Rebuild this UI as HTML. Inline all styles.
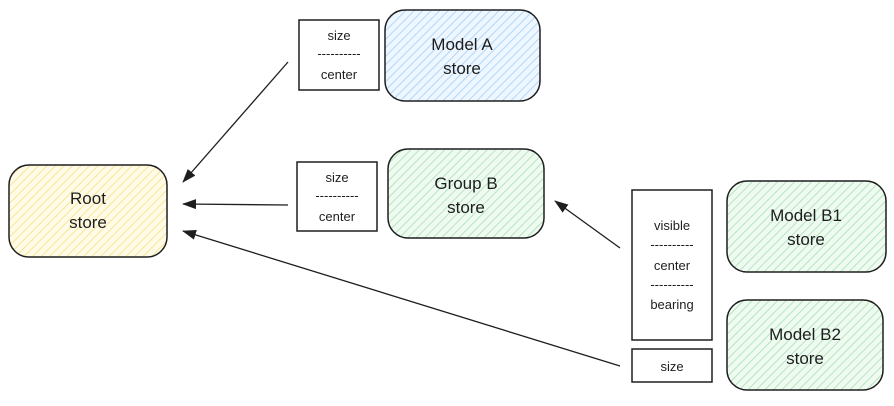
<!DOCTYPE html>
<html><head><meta charset="utf-8"><style>
html,body{margin:0;padding:0;background:#fff;}
svg text{font-family:"Comic Sans MS","Liberation Sans",sans-serif;fill:#1e1e1e;text-anchor:middle;}
.big{font-size:17px;}
.sm{font-size:13px;}
</style></head><body>
<svg width="894" height="401" viewBox="0 0 894 401" xmlns="http://www.w3.org/2000/svg">
<defs>
<pattern id="hy" width="6" height="6" patternUnits="userSpaceOnUse" patternTransform="rotate(45)"><rect width="6" height="6" fill="#fffbe6"/><line x1="0" y1="0" x2="0" y2="6" stroke="#f5e08a" stroke-width="1.6"/></pattern>
<pattern id="hb" width="6" height="6" patternUnits="userSpaceOnUse" patternTransform="rotate(45)"><rect width="6" height="6" fill="#eef6ff"/><line x1="0" y1="0" x2="0" y2="6" stroke="#a5d0f5" stroke-width="1.6"/></pattern>
<pattern id="hg" width="6" height="6" patternUnits="userSpaceOnUse" patternTransform="rotate(45)"><rect width="6" height="6" fill="#effaf1"/><line x1="0" y1="0" x2="0" y2="6" stroke="#a8e0b4" stroke-width="1.6"/></pattern>
<marker id="ah" markerWidth="14" markerHeight="10" refX="13" refY="5" orient="auto" markerUnits="userSpaceOnUse"><path d="M0,0 L14,5 L0,10 Z" fill="#1e1e1e"/></marker>
</defs>
<g stroke="#1e1e1e" stroke-width="1.5">
<rect x="9" y="165" width="158" height="92" rx="20" fill="url(#hy)"/>
<rect x="385" y="10" width="155" height="91" rx="20" fill="url(#hb)"/>
<rect x="388" y="149" width="156" height="89" rx="20" fill="url(#hg)"/>
<rect x="727" y="181" width="159" height="91" rx="20" fill="url(#hg)"/>
<rect x="727" y="300" width="156" height="90" rx="20" fill="url(#hg)"/>
<rect x="299" y="20" width="80" height="70" fill="#fff"/>
<rect x="297" y="162" width="80" height="69" fill="#fff"/>
<rect x="632" y="190" width="80" height="150" fill="#fff"/>
<rect x="632" y="349" width="80" height="33" fill="#fff"/>
</g>
<g stroke="#1e1e1e" stroke-width="1.3" fill="none" marker-end="url(#ah)">
<line x1="288" y1="62" x2="183" y2="182"/>
<line x1="288" y1="205" x2="183" y2="204"/>
<line x1="620" y1="366" x2="183" y2="231"/>
<line x1="620" y1="248" x2="555" y2="201"/>
</g>
<text class="big" x="88" y="204">Root</text><text class="big" x="88" y="228">store</text>
<text class="big" x="462" y="50">Model A</text><text class="big" x="462" y="74">store</text>
<text class="big" x="466" y="189">Group B</text><text class="big" x="466" y="213">store</text>
<text class="big" x="806" y="221">Model B1</text><text class="big" x="806" y="245">store</text>
<text class="big" x="805" y="340">Model B2</text><text class="big" x="805" y="364">store</text>
<text class="sm" x="339" y="40">size</text><text class="sm" x="339" y="58">----------</text><text class="sm" x="339" y="79">center</text>
<text class="sm" x="337" y="182">size</text><text class="sm" x="337" y="200">----------</text><text class="sm" x="337" y="221">center</text>
<text class="sm" x="672" y="230">visible</text><text class="sm" x="672" y="249">----------</text><text class="sm" x="672" y="270">center</text><text class="sm" x="672" y="289">----------</text><text class="sm" x="672" y="309">bearing</text>
<text class="sm" x="672" y="371">size</text>
</svg>
</body></html>
